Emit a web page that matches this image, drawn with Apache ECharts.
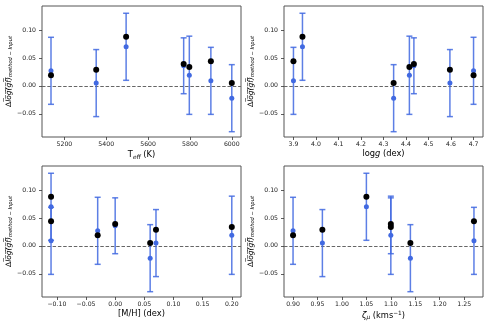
<!DOCTYPE html>
<html><head><meta charset="utf-8">
<script src="https://cdn.jsdelivr.net/npm/echarts@6/dist/echarts.min.js"></script>
<style>html,body{margin:0;padding:0;background:#fff}#c{width:491px;height:327px}</style>
</head><body><div id="c"></div>
<script>
// Seven stars (same order in every array)
const teff = [5136, 5352, 5495, 5770, 5797, 5900, 6000];
const logg = [4.70, 4.595, 3.94, 4.435, 4.415, 3.90, 4.345];
const mh = [-0.03, 0.07, -0.11, 0.00, 0.20, -0.11, 0.06];
const vmic = [0.90, 0.96, 1.05, 1.10, 1.10, 1.27, 1.14];
const blueVal = [0.027, 0.005, 0.070, 0.036, 0.019, 0.009, -0.022];
const blueErr = [0.060, 0.060, 0.060, 0.050, 0.070, 0.060, 0.060];
const blackVal = [0.019, 0.029, 0.088, 0.039, 0.034, 0.044, 0.005];

const yTicks = [-0.05, 0.00, 0.05, 0.10];
const teffTicks = [5200, 5400, 5600, 5800, 6000];
const loggTicks = [3.9, 4.0, 4.1, 4.2, 4.3, 4.4, 4.5, 4.6, 4.7];
const mhTicks = [-0.10, -0.05, 0.00, 0.05, 0.10, 0.15, 0.20];
const vmicTicks = [0.90, 0.95, 1.00, 1.05, 1.10, 1.15, 1.20, 1.25];

const FONT = 'DejaVu Sans';
const BLUE = '#4169e1';
const fmt = (d) => (v) => { const s = Math.abs(v).toFixed(d); return (v < -1e-9 ? '\u2212' : '') + s; };

const panels = [
  {x: teff, ticks: teffTicks, dec: 0, min: 5093, max: 6044, grid: {left: 42, top: 6, width: 199, height: 131},
   name: '{n|T}{s|eff}{n| (K)}'},
  {x: logg, ticks: loggTicks, dec: 1, min: 3.858, max: 4.742, grid: {left: 284, top: 6, width: 199, height: 131},
   name: '{n|log}{i|g}{n| (dex)}'},
  {x: mh, ticks: mhTicks, dec: 2, min: -0.1255, max: 0.2158, grid: {left: 42, top: 166, width: 199, height: 131},
   name: '{n|[M/H] (dex)}'},
  {x: vmic, ticks: vmicTicks, dec: 2, min: 0.8815, max: 1.2885, grid: {left: 284, top: 166, width: 199, height: 131},
   name: '{i|\u03b6}{s|\u03bc}{n| (kms}{p|\u22121}{n|)}'}
];

const TS = 8.3;
const nameRich = {
  n: {fontFamily: FONT, fontSize: TS, color: '#000'},
  i: {fontFamily: FONT, fontSize: TS, fontStyle: 'italic', color: '#000'},
  s: {fontFamily: FONT, fontSize: TS * 0.7, fontStyle: 'italic', color: '#000', padding: [4, 0, 0, 0]},
  p: {fontFamily: FONT, fontSize: TS * 0.7, color: '#000', padding: [0, 0, 5, 0]}
};
const yRich = {
  d: {fontFamily: FONT, fontSize: 7.5, color: '#000'},
  o: {fontFamily: FONT, fontSize: 7.5, fontStyle: 'italic', color: '#000'},
  s: {fontFamily: FONT, fontSize: 5.2, fontStyle: 'italic', color: '#000', padding: [4, 0, 0, 0]}
};
const yName = '{d|\u0394}{o|l\u0305o\u0305g\u0305(\u0305g\u0305f\u0305)\u0305}{s|method \u2212 Input}';

const grids = [], xAxes = [], yAxes = [], series = [];
panels.forEach((p, k) => {
  grids.push(Object.assign({show: true, borderColor: '#555', borderWidth: 1}, p.grid));
  xAxes.push({
    type: 'value', gridIndex: k, min: p.min, max: p.max,
    axisLine: {show: false, onZero: false}, splitLine: {show: false},
    axisTick: {show: true, inside: false, length: 3, lineStyle: {color: '#333', width: 0.8}, customValues: p.ticks},
    axisLabel: {show: true, margin: 4, fontFamily: FONT, fontSize: 6.2, color: '#222', customValues: p.ticks, formatter: fmt(p.dec)},
    name: p.name, nameLocation: 'middle', nameGap: 13, nameTextStyle: {rich: nameRich}
  });
  yAxes.push({
    type: 'value', gridIndex: k, min: -0.0915, max: 0.143,
    axisLine: {show: false, onZero: false}, splitLine: {show: false},
    axisTick: {show: true, inside: false, length: 3, lineStyle: {color: '#333', width: 0.8}, customValues: yTicks},
    axisLabel: {show: true, margin: 6, fontFamily: FONT, fontSize: 6.2, color: '#222', customValues: yTicks, formatter: fmt(2)},
    name: yName, nameLocation: 'middle', nameRotate: 90, nameGap: 24, nameTextStyle: {rich: yRich}
  });
  const errData = p.x.map((xv, i) => [xv, blueVal[i] - blueErr[i], blueVal[i] + blueErr[i]]);
  series.push({
    type: 'custom', xAxisIndex: k, yAxisIndex: k, data: errData, z: 2, clip: false,
    renderItem: function (params, api) {
      const x = api.value(0), lo = api.value(1), hi = api.value(2);
      const a = api.coord([x, hi]), b = api.coord([x, lo]);
      const st = {stroke: BLUE, lineWidth: 1.5, opacity: 0.85};
      const c = 3;
      return {type: 'group', children: [
        {type: 'line', shape: {x1: a[0], y1: a[1], x2: b[0], y2: b[1]}, style: st},
        {type: 'line', shape: {x1: a[0] - c, y1: a[1], x2: a[0] + c, y2: a[1]}, style: st},
        {type: 'line', shape: {x1: b[0] - c, y1: b[1], x2: b[0] + c, y2: b[1]}, style: st}
      ]};
    }
  });
  series.push({
    type: 'scatter', xAxisIndex: k, yAxisIndex: k, z: 3, symbolSize: 5,
    itemStyle: {color: BLUE, opacity: 1},
    data: p.x.map((xv, i) => [xv, blueVal[i]])
  });
  series.push({
    type: 'scatter', xAxisIndex: k, yAxisIndex: k, z: 4, symbolSize: 6,
    itemStyle: {color: '#000', opacity: 1},
    data: p.x.map((xv, i) => [xv, blackVal[i]]),
    markLine: {silent: true, symbol: 'none', label: {show: false}, z: 1, animation: false,
      lineStyle: {color: '#666', type: [3.5, 1.8], width: 1}, data: [{yAxis: 0}]}
  });
});

const chart = echarts.init(document.getElementById('c'), null, {renderer: 'canvas'});
chart.setOption({animation: false, backgroundColor: '#fff', grid: grids, xAxis: xAxes, yAxis: yAxes, series: series});
</script></body></html>
